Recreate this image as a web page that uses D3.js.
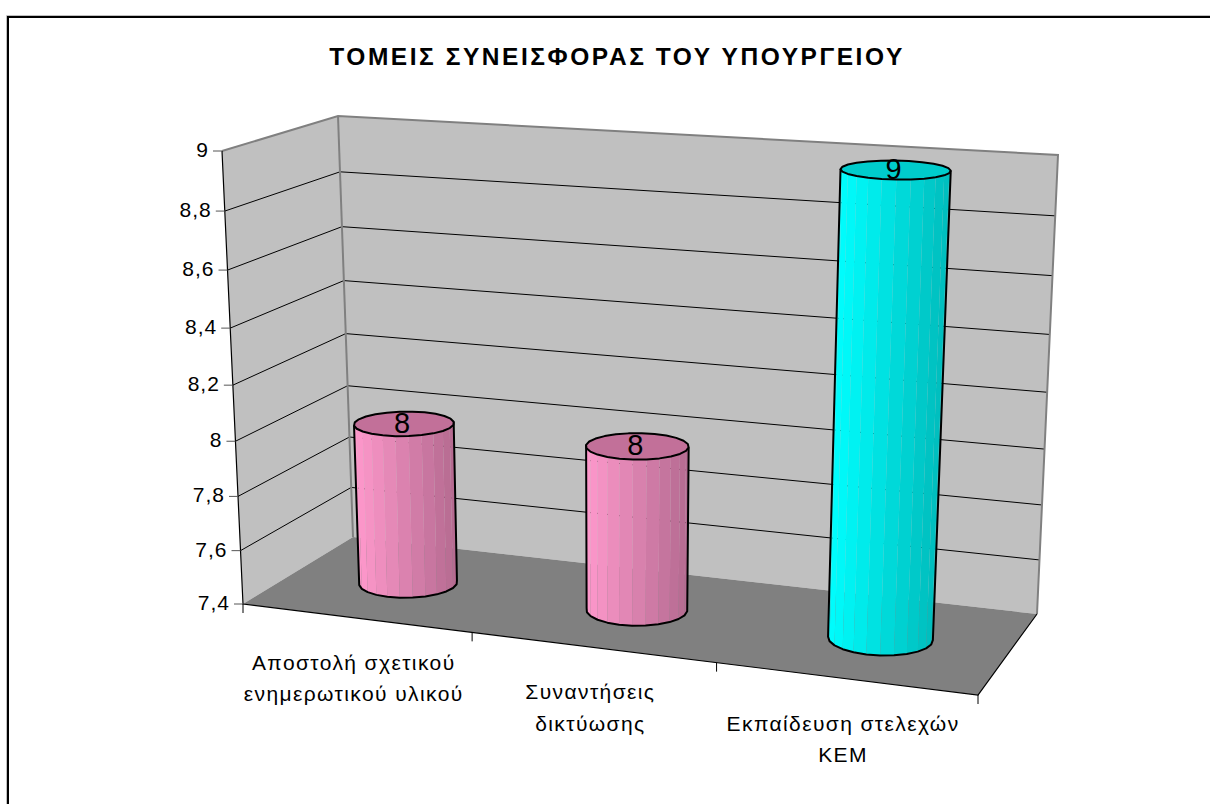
<!DOCTYPE html>
<html>
<head>
<meta charset="utf-8">
<script src="https://cdn.jsdelivr.net/npm/d3@7"></script>
<style>
  html, body { margin: 0; padding: 0; background: #fff; }
  svg { display: block; }
  text { font-family: "Liberation Sans", Arial, sans-serif; fill: #000; }
</style>
</head>
<body>
<svg id="chart" width="1210" height="804"></svg>
<script>
const title = 'ΤΟΜΕΙΣ ΣΥΝΕΙΣΦΟΡΑΣ ΤΟΥ ΥΠΟΥΡΓΕΙΟΥ';
const categories = ['Αποστολή σχετικού ενημερωτικού υλικού', 'Συναντήσεις δικτύωσης', 'Εκπαίδευση στελεχών ΚΕΜ'];
const categoryLines = [
  ['Αποστολή σχετικού', 'ενημερωτικού υλικού'],
  ['Συναντήσεις', 'δικτύωσης'],
  ['Εκπαίδευση στελεχών', 'ΚΕΜ']
];
const values = [8, 8, 9];
const tickValues = [7.4, 7.6, 7.8, 8, 8.2, 8.4, 8.6, 8.8, 9];

// colours of each cylinder: lit side, shaded side, top cap
const barLight = ['#ff99cc', '#ff99cc', '#00ffff'];
const barDark = ['#b46a90', '#b46a90', '#00bcbc'];
const barTop = ['#c27099', '#c27099', '#00cccc'];

const svg = d3.select('#chart');

// the box as it appears on screen, corners are [back-left, back-right, front-right, front-left]
const floorQuad = [[353, 537], [1037, 614], [978, 695], [243, 604]];
const ceilQuad = [[338, 116], [1058, 155], [1002, 202], [222, 151]];

// unit square to quad
function homography(q) {
  const [[x0, y0], [x1, y1], [x2, y2], [x3, y3]] = q;
  const dx1 = x1 - x2, dx2 = x3 - x2, sx = x0 - x1 + x2 - x3;
  const dy1 = y1 - y2, dy2 = y3 - y2, sy = y0 - y1 + y2 - y3;
  const den = dx1 * dy2 - dx2 * dy1;
  const g = (sx * dy2 - dx2 * sy) / den;
  const h = (dx1 * sy - sx * dy1) / den;
  const a = x1 - x0 + g * x1, b = x3 - x0 + h * x3;
  const d = y1 - y0 + g * y1, e = y3 - y0 + h * y3;
  return (u, v) => {
    const w = g * u + h * v + 1;
    return [(a * u + b * v + x0) / w, (d * u + e * v + y0) / w];
  };
}
const floorAt = homography(floorQuad);

// ceiling reuses the floor's spacing so the cylinders stay nearly upright
function ceilAt(x, z) {
  const [bl, br, fr, fl] = ceilQuad;
  const back = floorAt(x, 0), front = floorAt(x, 1), p = floorAt(x, z);
  const ub = (back[0] - floorQuad[0][0]) / (floorQuad[1][0] - floorQuad[0][0]);
  const uf = (front[0] - floorQuad[3][0]) / (floorQuad[2][0] - floorQuad[3][0]);
  const zf = (p[1] - back[1]) / (front[1] - back[1]);
  const b = d3.interpolate(bl, br)(ub), f = d3.interpolate(fl, fr)(uf);
  return d3.interpolate(b, f)(zf);
}

const xScale = d3.scaleBand().domain(categories).range([0, 1]);
const yScale = d3.scaleLinear().domain([7.4, 9]).range([0, 1]);
const fmt = d3.formatLocale({ decimal: ',', thousands: '.', grouping: [3], currency: ['', ''] }).format('~r');

// vertical spacing gets a bit tighter towards the floor
const lift = t => t / (t + 1.07 * (1 - t));

function project(x, val, z) {
  const a = floorAt(x, z), b = ceilAt(x, z), t = lift(yScale(val));
  return [a[0] + (b[0] - a[0]) * t, a[1] + (b[1] - a[1]) * t];
}

const line = d3.line();

// frame, open on the right and at the bottom
svg.append('path').attr('d', 'M8,804V17H1210').attr('fill', 'none').attr('stroke', '#000').attr('stroke-width', 2);
svg.append('path').attr('d', 'M6.5,804V15.5H1210').attr('fill', 'none').attr('stroke', '#c0c0c0').attr('stroke-width', 1);

svg.append('text').attr('x', 617).attr('y', 65).attr('text-anchor', 'middle')
  .attr('font-size', 24.5).attr('font-weight', 'bold').attr('letter-spacing', 2.55).text(title);

// walls and floor
const wall = (pts, fill) => svg.append('path').attr('d', line(pts) + 'Z').attr('fill', fill);
const vMin = tickValues[0], vMax = tickValues[tickValues.length - 1];
wall([project(0, vMin, 1), project(0, vMin, 0), project(0, vMax, 0), project(0, vMax, 1)], '#c0c0c0');
wall([project(0, vMin, 0), project(1, vMin, 0), project(1, vMax, 0), project(0, vMax, 0)], '#c0c0c0');
wall([project(0, vMin, 0), project(1, vMin, 0), project(1, vMin, 1), project(0, vMin, 1)], '#808080');

// gridlines
tickValues.slice(1, -1).forEach(v => {
  svg.append('path').attr('fill', 'none').attr('stroke', '#000').attr('stroke-width', 1)
    .attr('d', line([project(0, v, 1), project(0, v, 0), project(1, v, 0)]));
});

// wall edges
svg.append('path').attr('fill', 'none').attr('stroke', '#808080').attr('stroke-width', 2)
  .attr('d', line([project(0, vMax, 1), project(0, vMax, 0), project(1, vMax, 0), project(1, vMin, 0)]));
svg.append('path').attr('fill', 'none').attr('stroke', '#808080').attr('stroke-width', 2)
  .attr('d', line([project(0, vMax, 0), project(0, vMin, 0)]));
svg.append('path').attr('fill', 'none').attr('stroke', '#000').attr('stroke-width', 1.2)
  .attr('d', line([project(0, vMax, 1), project(0, vMin, 1), project(1, vMin, 1), project(1, vMin, 0)]));

// value axis
tickValues.forEach(v => {
  const p = project(0, v, 1);
  svg.append('line').attr('x1', p[0] - 9).attr('x2', p[0]).attr('y1', p[1]).attr('y2', p[1])
    .attr('stroke', '#555').attr('stroke-width', 1);
  svg.append('text').attr('x', p[0] - 13).attr('y', p[1] + 6).attr('text-anchor', 'end')
    .attr('font-size', 21).attr('letter-spacing', 1).text(fmt(v));
});

// category axis ticks
d3.range(categories.length + 1).forEach(i => {
  const p = project(i / categories.length, vMin, 1);
  svg.append('line').attr('x1', p[0]).attr('x2', p[0]).attr('y1', p[1]).attr('y2', p[1] + 9)
    .attr('stroke', '#000').attr('stroke-width', 1);
});

// category labels, centred under each band and shifted down the front edge
categories.forEach((c, i) => {
  const p = project(xScale(c) + xScale.bandwidth() / 2, vMin, 1);
  const t = svg.append('text').attr('text-anchor', 'middle').attr('font-size', 21).attr('letter-spacing', 1.4);
  categoryLines[i].forEach((s, j) => {
    t.append('tspan').attr('x', p[0] - 2).attr('y', p[1] + 52 + j * 31.5).text(s);
  });
});

// cylinders
const facets = 24;
const radiusX = 0.067, radiusZ = 0.2;

values.forEach((v, i) => {
  const cx = xScale(categories[i]) + xScale.bandwidth() / 2, cz = 0.51;
  const ring = val => d3.range(facets).map(k => {
    const a = k / facets * 2 * Math.PI;
    return project(cx + radiusX * Math.cos(a), val, cz + radiusZ * Math.sin(a));
  });
  const top = ring(v), bottom = ring(vMin);

  // the visible side runs from the rightmost point round the front to the leftmost
  const g = svg.append('g');
  const colour = d3.interpolateRgb(barLight[i], barDark[i]);
  const left = d3.least(d3.range(facets), k => bottom[k][0] + top[k][0]);
  const right = d3.least(d3.range(facets), k => -(bottom[k][0] + top[k][0]));
  const side = [];
  for (let k = right; k !== left; k = (k + 1) % facets) side.push(k);
  side.push(left);
  const x0 = bottom[left][0], x1 = bottom[right][0];

  for (let s = 0; s < side.length - 1; s++) {
    const a = side[s], b = side[s + 1];
    const mid = (bottom[a][0] + bottom[b][0]) / 2;
    g.append('path').attr('d', line([top[a], top[b], bottom[b], bottom[a]]) + 'Z')
      .attr('fill', colour((mid - x0) / (x1 - x0))).attr('stroke', 'none');
  }

  g.append('path').attr('fill', 'none').attr('stroke', '#000').attr('stroke-width', 2)
    .attr('stroke-linejoin', 'round')
    .attr('d', line([top[right], ...side.map(k => bottom[k]), top[left]]));
  g.append('path').attr('d', line(top) + 'Z').attr('fill', barTop[i]).attr('stroke', '#000')
    .attr('stroke-width', 2).attr('stroke-linejoin', 'round');

  const c = project(cx, v, cz);
  g.append('text').attr('x', c[0] - 2).attr('y', c[1] + 9).attr('text-anchor', 'middle')
    .attr('font-size', 29).text(fmt(v));
});
</script>
</body>
</html>
